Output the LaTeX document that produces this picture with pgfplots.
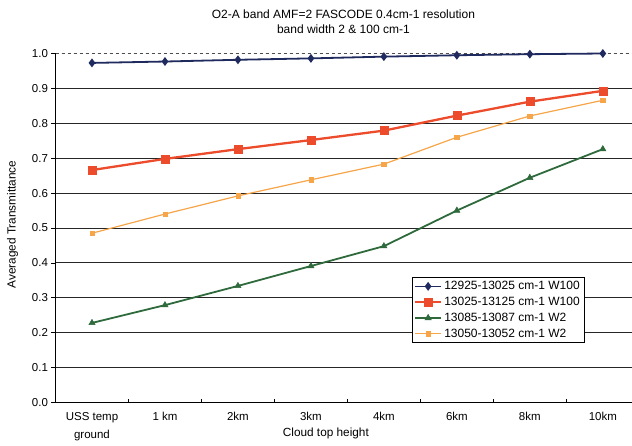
\documentclass[border=0pt]{standalone}
\usepackage{pgfplots}
\pgfplotsset{compat=1.18}
\usepackage{fontspec}
\setmainfont{Liberation Sans}

\definecolor{sNavy}{HTML}{1F2A5E}
\definecolor{sRed}{HTML}{EC4B2C}
\definecolor{sGreen}{HTML}{2E6A3C}
\definecolor{sOrange}{HTML}{F6A549}

\begin{document}
\begin{tikzpicture}
\begin{axis}[
  scale only axis, width=576.5pt, height=349pt,
  xmin=-0.5, xmax=7.4, ymin=0, ymax=1,
  axis x line=bottom, axis y line=left,
  axis line style={-, black, line width=1pt},
  /pgf/number format/assume math mode=true,
  tick label style={font=\fontsize{11.5}{13}\selectfont},
  xtick={0,1,2,3,4,5,6,7},
  xticklabels={{USS temp\\ground},{1 km},2km,3km,4km,6km,8km,10km},
  x tick label style={align=center, font=\fontsize{11.5}{18}\selectfont, yshift=-4pt},
  major x tick style={draw=none},
  extra x ticks={0.5,1.5,2.5,3.5,4.5,5.5,6.5},
  extra x tick labels={},
  extra x tick style={major tick length=4pt, tick align=inside,
    major x tick style={draw=black, line width=0.8pt}},
  ytick={0,0.1,0.2,0.3,0.4,0.5,0.6,0.7,0.8,0.9},
  extra y ticks={1},
  extra y tick style={grid style={dashed, black!70, line width=0.8pt}},
  yticklabel style={/pgf/number format/.cd, fixed, fixed zerofill, precision=1},
  ytick align=outside, major tick length=4pt,
  ymajorgrids,
  grid style={black!85, line width=1pt},
  y tick style={black, line width=0.8pt},
  legend style={at={(axis description cs:0.618,0.36)}, anchor=north west,
    draw=black, line width=0.8pt, fill=white,
    font=\fontsize{12}{14}\selectfont, inner sep=2pt,
    row sep=1.5pt, nodes={inner sep=2.2pt}},
  legend cell align=left,
  legend image code/.code={%
    \draw[mark repeat=2, mark phase=2] plot coordinates {(0cm,0cm) (0.45cm,0cm) (0.9cm,0cm)};},
  clip=false,
]
% 12925-13025 cm-1, 100 cm-1 band
\addplot[sNavy, line width=1.8pt, mark=diamond*, mark size=3pt,
  mark options={solid, fill=sNavy}]
  coordinates {(0,0.973) (1,0.977) (2,0.982) (3,0.986) (4,0.991) (5,0.995) (6,0.998) (7,1.0)};
\addlegendentry{12925-13025 cm-1 W100}
% 13025-13125 cm-1, 100 cm-1 band
\addplot[sRed, line width=2.3pt, mark=square*, mark size=4pt,
  mark options={solid, line width=0.5pt, fill=sRed}]
  coordinates {(0,0.666) (1,0.698) (2,0.726) (3,0.752) (4,0.779) (5,0.822) (6,0.862) (7,0.893)};
\addlegendentry{13025-13125 cm-1 W100}
% 13085-13087 cm-1, 2 cm-1 band
\addplot[sGreen, line width=1.8pt, mark=triangle*, mark size=3.6pt,
  mark options={solid, line width=0.5pt, fill=sGreen}]
  coordinates {(0,0.228) (1,0.279) (2,0.334) (3,0.391) (4,0.448) (5,0.550) (6,0.644) (7,0.726)};
\addlegendentry{13085-13087 cm-1 W2}
% 13050-13052 cm-1, 2 cm-1 band
\addplot[sOrange, line width=1.2pt, mark=square*, mark size=2.2pt,
  mark options={solid, line width=0.4pt, fill=sOrange}]
  coordinates {(0,0.485) (1,0.540) (2,0.592) (3,0.638) (4,0.683) (5,0.760) (6,0.821) (7,0.866)};
\addlegendentry{13050-13052 cm-1 W2}

\coordinate (bl) at (rel axis cs:0,0);
\coordinate (tr) at (rel axis cs:1,1);
\coordinate (ymid) at (rel axis cs:0,0.51);
\coordinate (xl) at (axis description cs:0.469,0);
\coordinate (tt) at (axis cs:3.5,1);
\end{axis}

\node[rotate=90, font=\fontsize{11.8}{13}\selectfont] at ([xshift=-43pt]ymid) {Averaged Transmittance};
\node[anchor=north, inner sep=0pt, font=\fontsize{11.8}{13}\selectfont] at ([yshift=-25pt]xl) {Cloud top height};
\node[anchor=south, align=center, inner sep=0pt, font=\fontsize{12}{14.5}\selectfont]
  at ([xshift=-4pt, yshift=20pt]tt) {O2-A band AMF=2 FASCODE 0.4cm-1 resolution\\band width 2 \& 100 cm-1};

\pgfresetboundingbox
\path[use as bounding box] ([shift={(-55.5pt,-42.5pt)}]bl) rectangle ([yshift=53.5pt]tr);
\end{tikzpicture}
\end{document}
